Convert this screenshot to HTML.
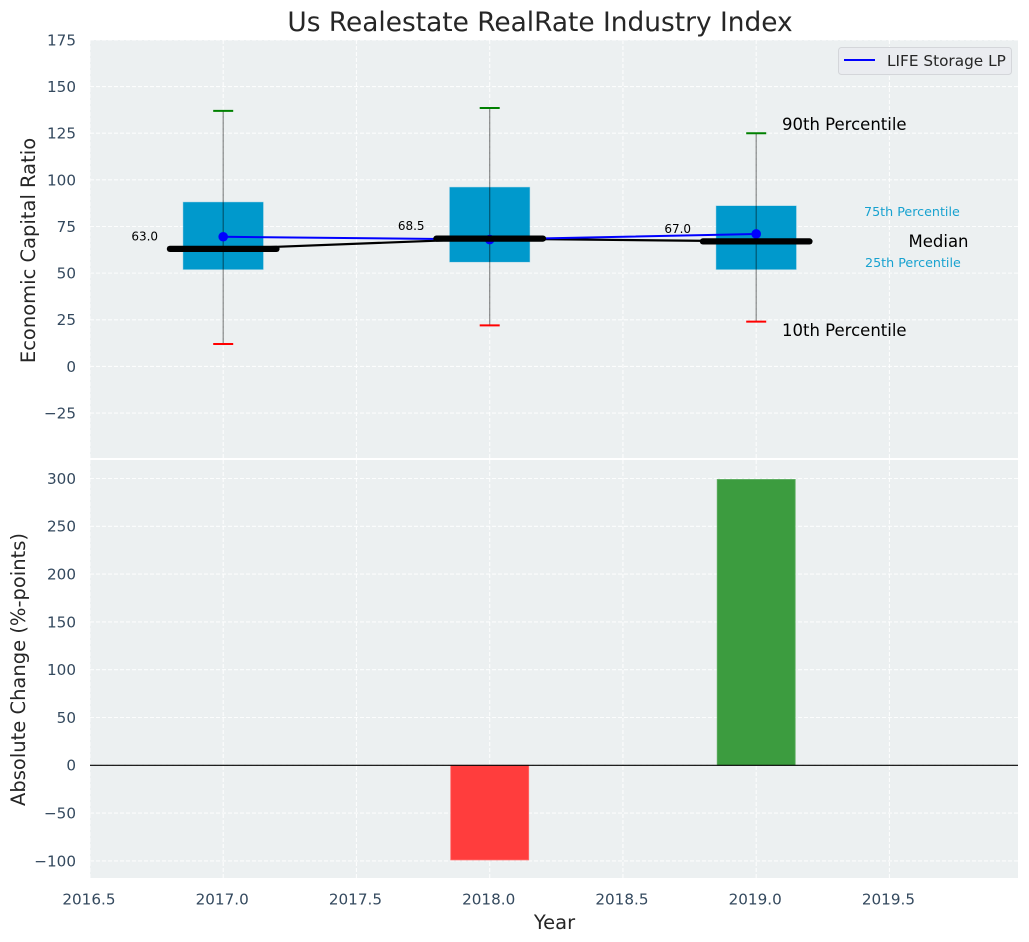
<!DOCTYPE html>
<html lang="en">
<head>
<meta charset="utf-8">
<title>Us Realestate RealRate Industry Index</title>
<style>
html,body{margin:0;padding:0;background:#fff;width:1029px;height:942px;overflow:hidden}
svg{display:block;font-family:"DejaVu Sans","Liberation Sans",sans-serif}
</style>
</head>
<body>
<svg id="chart" width="1029" height="942" viewBox="0 0 1029 942" xmlns="http://www.w3.org/2000/svg">
<defs>
<clipPath id="clip-top"><rect x="90" y="40" width="928" height="418"/></clipPath>
<clipPath id="clip-bottom"><rect x="90" y="460" width="928" height="418"/></clipPath>
</defs>
</svg>
<script>
const years = [2017, 2018, 2019];
const p10 = [12, 22, 24];
const p25 = [52, 56, 52];
const p50 = [63, 68.5, 67];
const p75 = [88, 96, 86];
const p90 = [137, 138.5, 125];
const company = [69.5, 68, 71];
const changes = [0, -99, 299];
const medianLabels = ['63.0', '68.5', '67.0'];
const xTicks = [2016.5, 2017, 2017.5, 2018, 2018.5, 2019, 2019.5];
const xTickLabels = ['2016.5', '2017.0', '2017.5', '2018.0', '2018.5', '2019.0', '2019.5'];
const topTicks = [-25, 0, 25, 50, 75, 100, 125, 150, 175];
const bottomTicks = [-100, -50, 0, 50, 100, 150, 200, 250, 300];

const NS = 'http://www.w3.org/2000/svg';
const svg = document.getElementById('chart');
const xScale = v => 223.2 + (v - 2017) * 266.5;
const yTop = v => 366.4 - v * 1.8655;
const yBottom = v => 765.3 - v * 0.956;
const tickColor = '#34495e';
const labelColor = '#262626';

function make(tag, attrs, parent, text) {
  const el = document.createElementNS(NS, tag);
  Object.keys(attrs).forEach(k => el.setAttribute(k, attrs[k]));
  if (text !== undefined) el.textContent = text;
  (parent || svg).appendChild(el);
  return el;
}
function fmt(v) { return v < 0 ? '\u2212' + Math.abs(v) : String(v); }

// panel backgrounds
const bgTop = make('rect', {x: 90, y: 40, width: 928, height: 418, fill: '#ecf0f1'});


const bgBottom = make('rect', {x: 90, y: 460, width: 928, height: 418, fill: '#ecf0f1'});



const topPanel = make('g', {'clip-path': 'url(#clip-top)'});


const bottomPanel = make('g', {'clip-path': 'url(#clip-bottom)'});



const gridStyle = {stroke: '#ffffff', 'stroke-opacity': 0.85, 'stroke-width': 1.1, 'stroke-dasharray': '4 2', fill: 'none'};

// grid
xTicks.forEach(t => {
  const a = make('line', Object.assign({x1: xScale(t), x2: xScale(t), y1: 40, y2: 458}, gridStyle), topPanel);
  
  
  const b = make('line', Object.assign({x1: xScale(t), x2: xScale(t), y1: 460, y2: 878}, gridStyle), bottomPanel);
  
  
});
topTicks.forEach(t => {
  const g = make('line', Object.assign({x1: 90, x2: 1018, y1: yTop(t), y2: yTop(t)}, gridStyle), topPanel);
  
  
  const l = make('text', {x: 76, y: yTop(t) + 5.4, 'text-anchor': 'end', 'font-size': 15.2, fill: tickColor}, svg, fmt(t));
  
  
});
bottomTicks.forEach(t => {
  const g = make('line', Object.assign({x1: 90, x2: 1018, y1: yBottom(t), y2: yBottom(t)}, gridStyle), bottomPanel);
  
  
  const l = make('text', {x: 76, y: yBottom(t) + 5.4, 'text-anchor': 'end', 'font-size': 15.2, fill: tickColor}, svg, fmt(t));
  
  
});
xTicks.forEach((t, i) => {
  const l = make('text', {x: xScale(t) - 1, y: 904.5, 'text-anchor': 'middle', 'font-size': 15.2, fill: tickColor}, svg, xTickLabels[i]);
  
  
});

// percentile boxes
const boxW = 0.3;
years.forEach((y, i) => {
  const box = make('rect', {
    x: xScale(y - boxW / 2), y: yTop(p75[i]),
    width: xScale(y + boxW / 2) - xScale(y - boxW / 2),
    height: yTop(p25[i]) - yTop(p75[i]),
    fill: '#0099cc', stroke: '#0099cc', 'stroke-opacity': 0.3, 'stroke-width': 1
  }, topPanel);
  
  
});
// whiskers and caps
years.forEach((y, i) => {
  const w = make('line', {x1: xScale(y), x2: xScale(y), y1: yTop(p90[i]), y2: yTop(p10[i]), stroke: '#000', 'stroke-opacity': 0.45, 'stroke-width': 1.2}, topPanel);
  
  
  const hi = make('line', {x1: xScale(y) - 10, x2: xScale(y) + 10, y1: yTop(p90[i]), y2: yTop(p90[i]), stroke: '#008000', 'stroke-width': 2}, topPanel);
  
  
  const lo = make('line', {x1: xScale(y) - 10, x2: xScale(y) + 10, y1: yTop(p10[i]), y2: yTop(p10[i]), stroke: '#ff0000', 'stroke-width': 2}, topPanel);
  
  
});
// median connector
const medianLine = make('polyline', {
  points: years.map((y, i) => xScale(y) + ',' + yTop(p50[i])).join(' '),
  fill: 'none', stroke: '#000', 'stroke-width': 2.2
}, topPanel);


// company line
const companyLine = make('polyline', {
  points: years.map((y, i) => xScale(y) + ',' + yTop(company[i])).join(' '),
  fill: 'none', stroke: '#0000ff', 'stroke-width': 2
}, topPanel);


years.forEach((y, i) => {
  const c = make('circle', {cx: xScale(y), cy: yTop(company[i]), r: 4.8, fill: '#0000ff'}, topPanel);
  
  
});
// medians
years.forEach((y, i) => {
  const m = make('line', {
    x1: xScale(y - 0.2), x2: xScale(y + 0.2), y1: yTop(p50[i]), y2: yTop(p50[i]),
    stroke: '#000', 'stroke-width': 6.2, 'stroke-linecap': 'round'
  }, topPanel);
  
  
  const t = make('text', {x: xScale(y) - 78.5, y: yTop(p50[i]) - 8.5, 'text-anchor': 'middle', 'font-size': 12, fill: '#000'}, svg, medianLabels[i]);
  
  
});

// change bars
years.forEach((y, i) => {
  if (changes[i] === 0) return;
  const v = changes[i];
  const r = make('rect', {
    x: xScale(y) - 39, y: Math.min(yBottom(0), yBottom(v)),
    width: 78, height: Math.abs(yBottom(v) - yBottom(0)),
    fill: v < 0 ? '#ff3d3d' : '#3c9c3f',
    stroke: v < 0 ? '#ff6b6b' : '#5fae62', 'stroke-width': 0.8
  }, bottomPanel);
  
  
});
const zero = make('line', {x1: 90, x2: 1018, y1: yBottom(0), y2: yBottom(0), stroke: '#000', 'stroke-width': 1.2}, bottomPanel);



// percentile annotations
const a90 = make('text', {x: 782, y: 130, 'font-size': 16.5, fill: '#000'}, svg, '90th Percentile');


const a10 = make('text', {x: 782, y: 336, 'font-size': 16.5, fill: '#000'}, svg, '10th Percentile');


const aMed = make('text', {x: 908.5, y: 247, 'font-size': 16.5, fill: '#000'}, svg, 'Median');


const a75 = make('text', {x: 864, y: 216, 'font-size': 12.7, fill: '#0099cc', 'fill-opacity': 0.9}, svg, '75th Percentile');


const a25 = make('text', {x: 865, y: 267, 'font-size': 12.7, fill: '#0099cc', 'fill-opacity': 0.9}, svg, '25th Percentile');



// legend
const legend = make('g', {});


const legendBox = make('rect', {x: 838.5, y: 47.5, width: 173, height: 27, rx: 3, fill: '#eaecf0', stroke: '#d4d6da', 'stroke-width': 1}, legend);


const legendLine = make('line', {x1: 844, x2: 875, y1: 60, y2: 60, stroke: '#0000ff', 'stroke-width': 2}, legend);


const legendText = make('text', {x: 887, y: 66, 'font-size': 15.3, fill: labelColor}, legend, 'LIFE Storage LP');



// titles
const title = make('text', {x: 540, y: 31, 'text-anchor': 'middle', 'font-size': 26.4, fill: labelColor}, svg, 'Us Realestate RealRate Industry Index');


const yTitleTop = make('text', {transform: 'translate(35,250.5) rotate(-90)', 'text-anchor': 'middle', 'font-size': 19.5, fill: labelColor}, svg, 'Economic Capital Ratio');


const yTitleBottom = make('text', {transform: 'translate(25,669.5) rotate(-90)', 'text-anchor': 'middle', 'font-size': 19.5, fill: labelColor}, svg, 'Absolute Change (%-points)');


const xTitle = make('text', {x: 554.5, y: 929, 'text-anchor': 'middle', 'font-size': 19.5, fill: labelColor}, svg, 'Year');


</script>
</body>
</html>
